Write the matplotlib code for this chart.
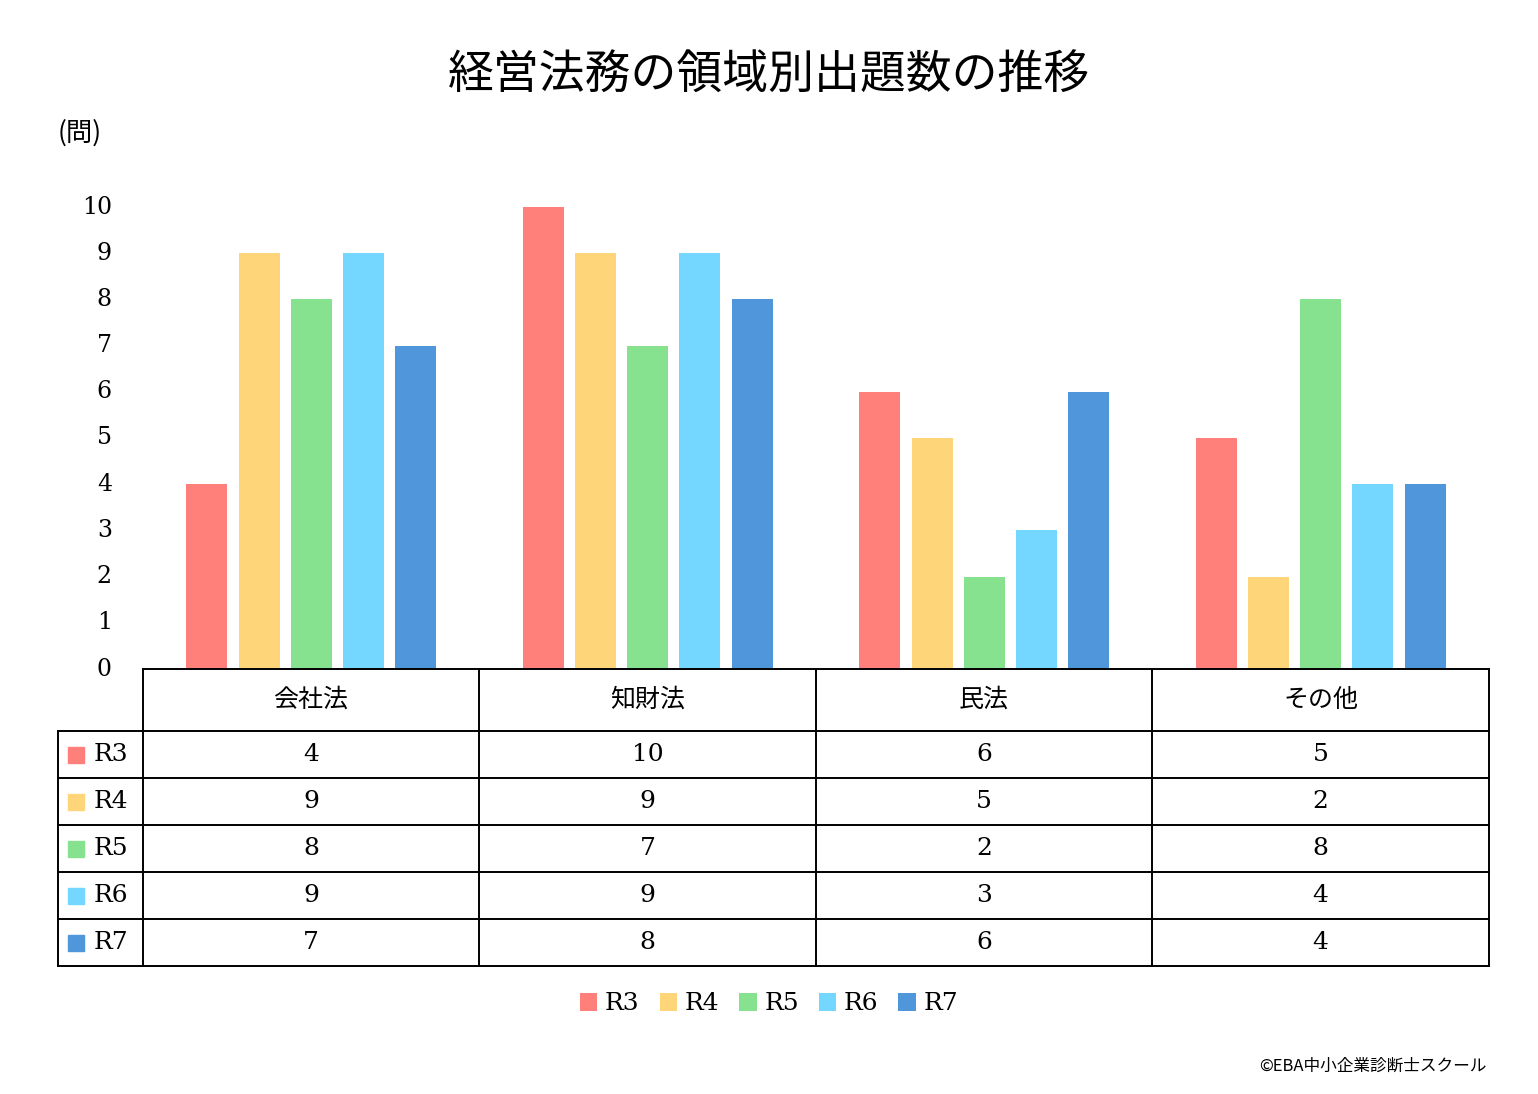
import matplotlib.pyplot as plt
from matplotlib.lines import Line2D
from matplotlib.patches import Rectangle
import numpy as np

categories = ["会社法", "知財法", "民法", "その他"]
series_names = ["R3", "R4", "R5", "R6", "R7"]
r3 = [4, 10, 6, 5]
r4 = [9, 9, 5, 2]
r5 = [8, 7, 2, 8]
r6 = [9, 9, 3, 4]
r7 = [7, 8, 6, 4]
series = [r3, r4, r5, r6, r7]
colors = ["#FF7F7A", "#FFD57A", "#86E28F", "#73D7FF", "#5096DB"]

JP = "Noto Sans CJK JP"
NUM = "DejaVu Serif"
W, H = 1538, 1094
fx = lambda px: px / W
fy = lambda py: 1 - py / H

fig = plt.figure(figsize=(15.38, 10.94), dpi=100)
ax = fig.add_axes([fx(143), fy(669), fx(1489) - fx(143), fy(207) - fy(669)])
ax.set_xlim(-0.5, len(categories) - 0.5)
ax.set_ylim(0, 10)
for s in ax.spines.values():
    s.set_visible(False)
ax.set_xticks([])
ax.set_yticks([])

x = np.arange(len(categories))
step, width = 0.155, 0.122
for i, (vals, c) in enumerate(zip(series, colors)):
    ax.bar(x + (i - 2) * step, vals, width, color=c, label=series_names[i])

# y tick labels
for v in range(11):
    yy = ax.transData.transform((0, v))[1] / fig.bbox.height
    fig.text(fx(112), yy, str(v), ha="right", va="center", fontsize=17, family=NUM)
fig.text(fx(80), fy(133), "(問)", ha="center", va="center", fontsize=19, family=JP)

fig.text(0.5, fy(76), "経営法務の領域別出題数の推移", ha="center", va="center",
         fontsize=33, family=JP)

# table
col_x = [58, 143, 479, 816, 1152, 1489]
row_y = [669, 731, 778, 825, 872, 919, 966]
lw = 1.4
fig.add_artist(Line2D([fx(143), fx(1489)], [fy(669)] * 2, color="black", lw=lw))
for yy in row_y[1:]:
    fig.add_artist(Line2D([fx(58), fx(1489)], [fy(yy)] * 2, color="black", lw=lw))
for xx in col_x[1:]:
    fig.add_artist(Line2D([fx(xx)] * 2, [fy(669), fy(966)], color="black", lw=lw))
fig.add_artist(Line2D([fx(58)] * 2, [fy(731), fy(966)], color="black", lw=lw))

for j, cat in enumerate(categories):
    cx = (col_x[j + 1] + col_x[j + 2]) / 2
    fig.text(fx(cx), fy(700), cat, ha="center", va="center", fontsize=18, family=JP)
for i, (vals, c) in enumerate(zip(series, colors)):
    cy = (row_y[i + 1] + row_y[i + 2]) / 2
    fig.add_artist(Rectangle((fx(68), fy(cy + 8)), fx(16), fy(0) - fy(16),
                             color=c, transform=fig.transFigure))
    fig.text(fx(94), fy(cy), series_names[i], ha="left", va="center", fontsize=18, family=NUM)
    for j, v in enumerate(vals):
        cx = (col_x[j + 1] + col_x[j + 2]) / 2
        fig.text(fx(cx), fy(cy), str(v), ha="center", va="center", fontsize=18, family=NUM)

fig.legend(loc="center", bbox_to_anchor=(0.5, fy(1004)), ncol=5, frameon=False,
           prop={"family": NUM, "size": 18}, handlelength=0.7, handleheight=0.7,
           handletextpad=0.3, columnspacing=0.8)

fig.text(fx(1486), fy(1066), "©EBA中小企業診断士スクール", ha="right", va="center",
         fontsize=12, family=JP)

fig.savefig("out.png", dpi=100, facecolor="white")
